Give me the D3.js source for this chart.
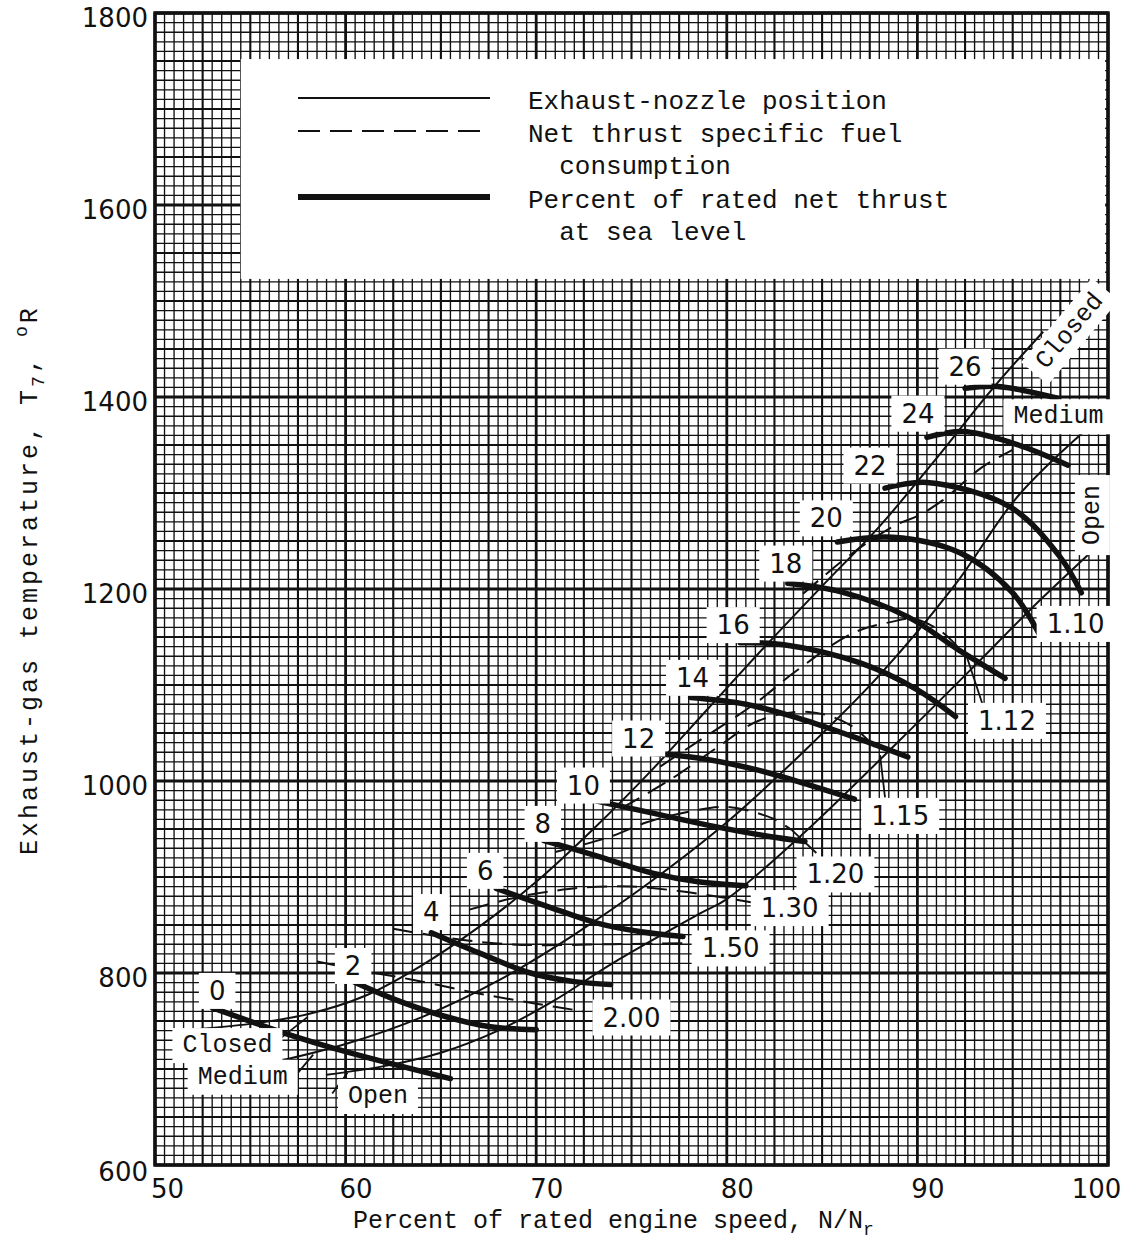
<!DOCTYPE html>
<html>
<head>
<meta charset="utf-8">
<script src="https://cdn.jsdelivr.net/npm/d3@7"></script>
<style>
  body { margin: 0; background: #fff; }
  svg { display: block; }
</style>
</head>
<body>
<svg id="chart" width="1141" height="1245"></svg>
<script>
// Axis ranges and tick labels
const xDomain = [50, 100];
const yDomain = [600, 1800];
const xTickValues = [50, 60, 70, 80, 90, 100];
const yTickValues = [600, 800, 1000, 1200, 1400, 1600, 1800];

// Exhaust-nozzle position curves [N/Nr %, T7 °R]
const nozzleNames = ["Closed", "Medium", "Open"];
const nozzleClosed = [[51.8, 741], [55, 747], [58, 757], [61, 776], [64, 808], [67, 848], [70, 895], [73, 950], [76, 1010], [79, 1075], [82, 1140], [85, 1203], [88, 1265], [91, 1336], [94, 1410], [96.6, 1468]];
const nozzleMedium = [[56, 706], [60, 726], [64, 754], [68, 792], [72, 840], [76, 895], [80, 957], [84, 1030], [88, 1110], [92, 1205], [95.2, 1295], [98.8, 1365]];
const nozzleOpen = [[59, 694], [62, 703], [65, 717], [68, 740], [71, 772], [74, 810], [78.6, 862], [80, 877], [84, 945], [89.1, 1043], [93, 1120], [96, 1180], [99.2, 1240]];

// Net thrust specific fuel consumption curves
const sfcLabels = ["2.00", "1.50", "1.30", "1.20", "1.15", "1.12", "1.10"];
const sfc200 = [[58.5, 812], [61, 802], [63.5, 793], [66.9, 779], [70, 768], [72.5, 760]];
const sfc150 = [[62.5, 846], [65.6, 836], [67.8, 831], [70, 829], [74, 830], [78.2, 831]];
const sfc130 = [[66.5, 866], [69, 879], [71.1, 886], [72.5, 889], [75, 890], [78, 884], [81.5, 873]];
const sfc120 = [[71, 926], [73.9, 942], [75.8, 957], [78, 968], [80, 973], [82.4, 961], [83.4, 949]];
const sfc115 = [[74.5, 972], [77, 1001], [79.5, 1035], [81.7, 1063], [84.3, 1072], [86.5, 1058], [88.0, 1030]];
const sfc112 = [[76.5, 1015], [78.4, 1040], [81.5, 1081], [83.6, 1114], [86.6, 1154], [88.7, 1166], [89.8, 1169], [91.3, 1155], [92.6, 1129]];
const sfc110 = [[84, 1195], [86.5, 1236], [88.9, 1267], [90, 1276], [91.3, 1292], [93.4, 1327], [95, 1345]];
const sfcSeries = [sfc200, sfc150, sfc130, sfc120, sfc115, sfc112, sfc110];

// Percent of rated net thrust at sea level
const thrustLabels = ["0", "2", "4", "6", "8", "10", "12", "14", "16", "18", "20", "22", "24", "26"];
const thrust0 = [[53.0, 764], [56.7, 738], [60.2, 717], [65.5, 690]];
const thrust2 = [[60.5, 790], [62.5, 773], [65, 756], [67.6, 744], [70, 741]];
const thrust4 = [[64.5, 842], [67, 821], [69.7, 800], [72, 791], [73.9, 788]];
const thrust6 = [[67.9, 888], [70.5, 870], [73.2, 852], [75.5, 843], [77.7, 838]];
const thrust8 = [[70.4, 938], [73, 923], [76.1, 904], [78.5, 895], [81, 891]];
const thrust10 = [[73, 980], [76, 967], [79, 954], [82, 943], [84.1, 937]];
const thrust12 = [[75.9, 1029], [78.5, 1024], [81.7, 1011], [84.3, 996], [86.7, 981]];
const thrust14 = [[78.1, 1087], [81, 1080], [83.5, 1067], [86.5, 1047], [89.5, 1025]];
const thrust16 = [[80.7, 1144], [83, 1142], [87, 1123], [90, 1095], [92, 1067]];
const thrust18 = [[83.2, 1206], [86, 1197], [89.5, 1171], [92.2, 1136], [94.6, 1107]];
const thrust20 = [[85.8, 1249], [88.7, 1254], [92.2, 1238], [95, 1196], [96.5, 1149]];
const thrust22 = [[88.3, 1305], [90.5, 1311], [94.9, 1285], [97.5, 1233], [98.6, 1196]];
const thrust24 = [[90.5, 1358], [92.4, 1364], [95, 1352], [97.9, 1329]];
const thrust26 = [[92.5, 1409], [94.2, 1411], [97.3, 1399]];
const thrustSeries = [thrust0, thrust2, thrust4, thrust6, thrust8, thrust10, thrust12, thrust14, thrust16, thrust18, thrust20, thrust22, thrust24, thrust26];

// ---------------------------------------------------------------
const svg = d3.select("#chart");
const margin = { left: 155, top: 13, right: 33, bottom: 80 };
const W = 1141, H = 1245;
const x = d3.scaleLinear().domain(xDomain).range([margin.left, W - margin.right]);
const y = d3.scaleLinear().domain(yDomain).range([H - margin.bottom, margin.top]);

const mono = "'Liberation Mono', 'DejaVu Sans Mono', monospace";
const sans = "'DejaVu Sans', 'Liberation Sans', sans-serif";
const ink = "#111";

// Graph-paper grid: fine rulings, heavier every fifth, heaviest at labelled values
const grid = svg.append("g").attr("class", "grid");
d3.range(xDomain[0], xDomain[1] + 0.001, 0.5).forEach(v => {
  const major = Math.abs(v % 10) < 1e-6;
  const mid = Math.abs(v % 2.5) < 1e-6;
  grid.append("line")
    .attr("x1", x(v)).attr("x2", x(v)).attr("y1", y(yDomain[0])).attr("y2", y(yDomain[1]))
    .attr("stroke", ink).attr("stroke-width", major ? 2.8 : mid ? 2.1 : 1.35);
});
d3.range(yDomain[0], yDomain[1] + 0.001, 10).forEach(v => {
  const major = v % 200 === 0;
  const mid = v % 50 === 0;
  grid.append("line")
    .attr("y1", y(v)).attr("y2", y(v)).attr("x1", x(xDomain[0])).attr("x2", x(xDomain[1]))
    .attr("stroke", ink).attr("stroke-width", major ? 2.8 : mid ? 2.1 : 1.35);
});

// Frame
svg.append("rect")
  .attr("x", x(xDomain[0])).attr("y", y(yDomain[1]))
  .attr("width", x(xDomain[1]) - x(xDomain[0])).attr("height", y(yDomain[0]) - y(yDomain[1]))
  .attr("fill", "none").attr("stroke", ink).attr("stroke-width", 3.5);

// Axes (labels only; the grid carries the ticks)
const xAxis = d3.axisBottom(x).tickValues(xTickValues).tickFormat(d3.format("d")).tickSize(0).tickPadding(0);
const gx = svg.append("g").attr("transform", `translate(0,${y(yDomain[0])})`).call(xAxis);
gx.select(".domain").remove();
gx.selectAll("text")
  .attr("font-family", sans).attr("font-size", 26).attr("fill", ink)
  .attr("dy", 33)
  .attr("dx", d => d === 100 ? -12 : d === 50 ? 12 : 10);

const yAxis = d3.axisLeft(y).tickValues(yTickValues).tickFormat(d3.format("d")).tickSize(0).tickPadding(7);
const gy = svg.append("g").attr("transform", `translate(${x(xDomain[0])},0)`).call(yAxis);
gy.select(".domain").remove();
gy.selectAll("text")
  .attr("font-family", sans).attr("font-size", 26).attr("fill", ink)
  .attr("dy", d => d === 600 ? "0.6em" : "0.5em");

// Axis titles
const xt = svg.append("text")
  .attr("x", 353).attr("y", 1228)
  .attr("font-family", mono).attr("font-size", 25).attr("fill", ink);
xt.append("tspan").text("Percent of rated engine speed, N/N");
xt.append("tspan").attr("font-size", 18).attr("dy", 7).text("r");

const yt = svg.append("text")
  .attr("transform", "translate(37,855) rotate(-90)")
  .attr("font-family", mono).attr("font-size", 25).attr("fill", ink)
  .attr("letter-spacing", 3);
yt.append("tspan").text("Exhaust-gas temperature, T");
yt.append("tspan").attr("font-size", 18).attr("dy", 7).text("7");
yt.append("tspan").attr("dy", -7).text(", ");
yt.append("tspan").attr("font-size", 18).attr("dy", -10).text("o");
yt.append("tspan").attr("dy", 10).text("R");

// Legend panel
const lg = svg.append("g");
lg.append("rect")
  .attr("x", x(54.5)).attr("y", y(1752)).attr("width", x(99.85) - x(54.5)).attr("height", y(1523) - y(1752))
  .attr("fill", "#fff");
const legendRows = [
  { y: 98, w: 1.8, dash: null, lines: ["Exhaust-nozzle position"] },
  { y: 131, w: 2, dash: "22,10", lines: ["Net thrust specific fuel", "  consumption"] },
  { y: 197, w: 6, dash: null, lines: ["Percent of rated net thrust", "  at sea level"] }
];
legendRows.forEach(r => {
  lg.append("line").attr("x1", 298).attr("x2", 490).attr("y1", r.y).attr("y2", r.y)
    .attr("stroke", ink).attr("stroke-width", r.w).attr("stroke-dasharray", r.dash);
  r.lines.forEach((t, i) => {
    lg.append("text").attr("x", 528).attr("y", r.y + 11 + i * 32)
      .attr("font-family", mono).attr("font-size", 26).attr("fill", ink)
      .style("white-space", "pre").text(t);
  });
});

const line = d3.line().x(d => x(d[0])).y(d => y(d[1])).curve(d3.curveCatmullRom.alpha(0.5));
const marks = svg.append("g");

// Nozzle-position curves
[nozzleClosed, nozzleMedium, nozzleOpen].forEach(s => {
  marks.append("path").attr("d", line(s)).attr("fill", "none")
    .attr("stroke", ink).attr("stroke-width", 2);
});

// SFC curves
sfcSeries.forEach(s => {
  marks.append("path").attr("d", line(s)).attr("fill", "none")
    .attr("stroke", ink).attr("stroke-width", 2).attr("stroke-dasharray", "20,10");
});

// Thrust curves
thrustSeries.forEach(s => {
  marks.append("path").attr("d", line(s)).attr("fill", "none")
    .attr("stroke", ink).attr("stroke-width", 5.5).attr("stroke-linecap", "round");
});

// Boxed labels
function boxedLabel(px, py, txt, font, size, rot) {
  const g = svg.append("g").attr("transform", `translate(${px},${py}) rotate(${rot || 0})`);
  const t = g.append("text").attr("text-anchor", "middle").attr("dy", "0.36em")
    .attr("font-family", font).attr("font-size", size).attr("fill", ink).text(txt);
  const bb = t.node().getBBox();
  g.insert("rect", "text").attr("x", bb.x - 10).attr("y", bb.y - 3)
    .attr("width", bb.width + 20).attr("height", bb.height + 6).attr("fill", "#fff");
}

// Thrust labels sit just above the left end of each curve (pixel nudges per label)
const thrustLabelNudge = [[5, -17], [-2, -17], [0, -21], [-11, -18], [-1, -17], [-10, -15], [-10, -15],
                          [2, -20], [-7, -18], [-2, -20], [-11, -24], [-15, -23], [-9, -24], [0, -22]];
thrustSeries.forEach((s, i) => {
  const n = thrustLabelNudge[i];
  boxedLabel(x(s[0][0]) + n[0], y(s[0][1]) + n[1], thrustLabels[i], sans, 26);
});

const sfcLabelAt = [[75.0, 754], [80.2, 826], [83.3, 868], [85.7, 903], [89.1, 964], [94.7, 1063], [98.3, 1164]];
sfcLabelAt.forEach((p, i) => boxedLabel(x(p[0]), y(p[1]), sfcLabels[i], sans, 26));

boxedLabel(x(53.8), y(727), nozzleNames[0], mono, 25);
boxedLabel(x(54.6), y(694), nozzleNames[1], mono, 25);
boxedLabel(x(61.7), y(674), nozzleNames[2], mono, 25);
boxedLabel(x(97.9), y(1470), nozzleNames[0], mono, 25, -50);
boxedLabel(x(97.4), y(1382), nozzleNames[1], mono, 25);
boxedLabel(x(99.05), y(1277), nozzleNames[2], mono, 25, -90);

// Leaders from labels to curves
const leaders = [[[56.4, 729], [58, 754]], [[57.45, 695], [58.3, 715]], [[59.3, 674.5], [60.1, 696]],
                 [[93.4, 1081], [92.6, 1129]], [[88.3, 983], [88.04, 1027]], [[84.7, 925], [83.4, 949]]];
leaders.forEach(l => {
  marks.append("line").attr("x1", x(l[0][0])).attr("y1", y(l[0][1])).attr("x2", x(l[1][0])).attr("y2", y(l[1][1]))
    .attr("stroke", ink).attr("stroke-width", 1.8);
});
</script>
</body>
</html>
